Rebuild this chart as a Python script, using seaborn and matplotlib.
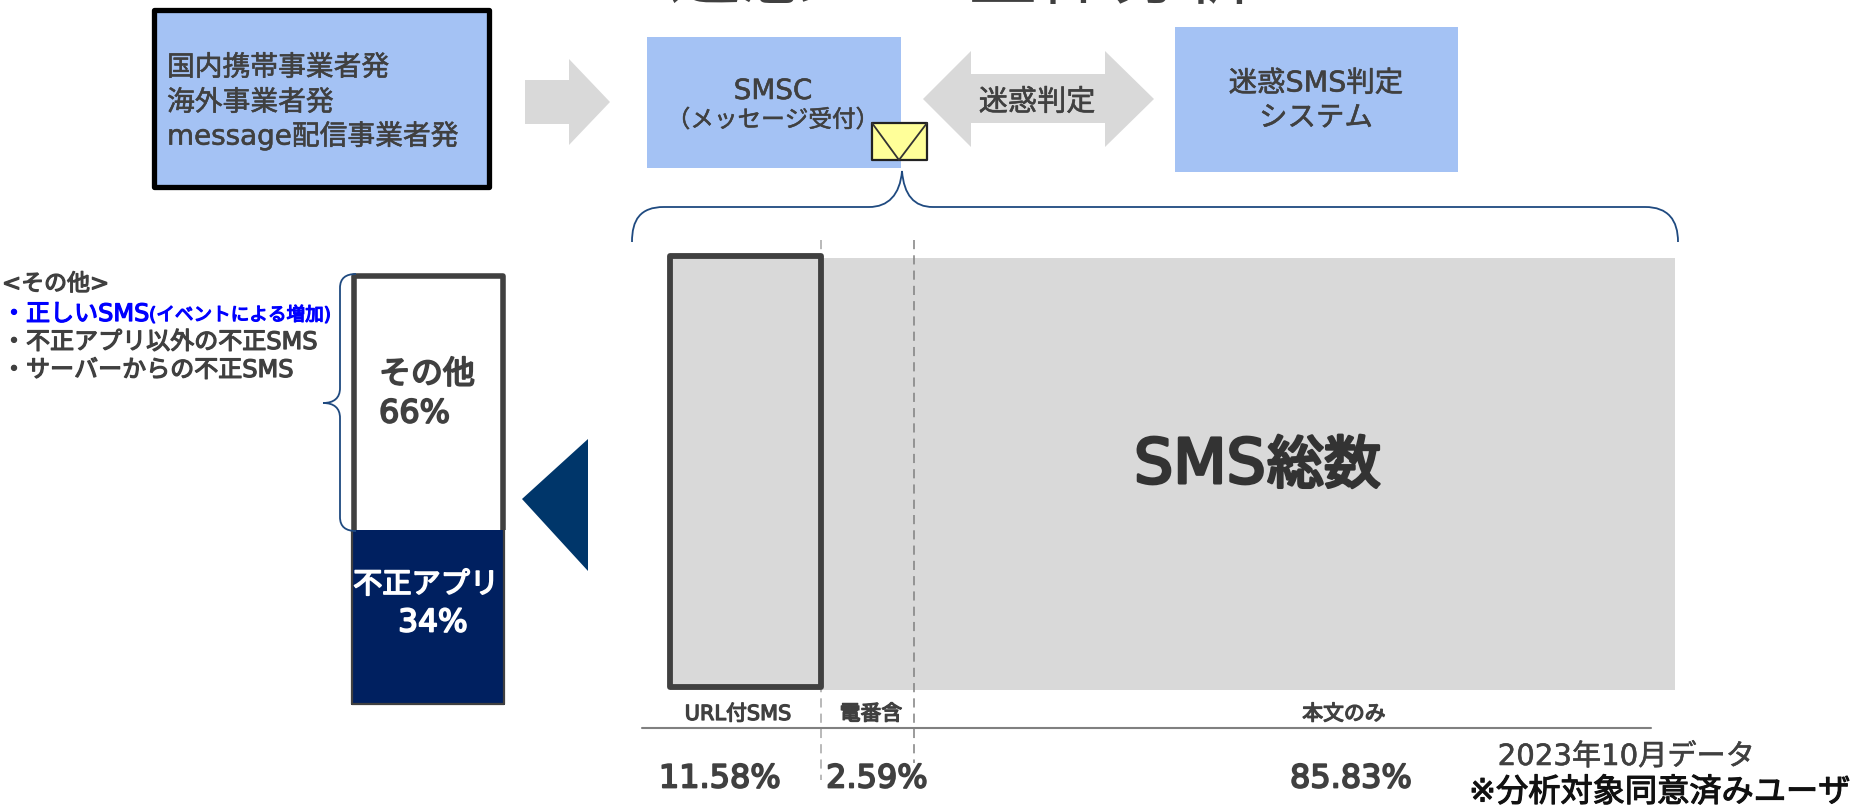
#!/usr/bin/env python3

import matplotlib

matplotlib.use("Agg")
import matplotlib.patheffects as pe
import matplotlib.pyplot as plt
import seaborn as sns
from matplotlib.patches import PathPatch, Polygon, Rectangle
from matplotlib.path import Path

W, H = 1857, 809

# The slide is a sketch: the drawn bands are not to scale with their labels,
# so drawn sizes (share of the band on screen) are kept apart from the labels.
band_names = ["URL付SMS", "電番含", "本文のみ"]
band_labels = ["11.58%", "2.59%", "85.83%"]
band_drawn = [15.0, 9.2, 75.8]

stack_names = ["不正アプリ", "その他"]
stack_labels = ["34%", "66%"]
stack_drawn = [40.5, 59.5]

other_items = ["不正アプリ以外の不正SMS", "サーバーからの不正SMS"]

GREY = "#d9d9d9"
BLUE = "#a4c2f4"
INK = "#404040"
NAVY = "#002060"
BRACE = "#1f4a80"

sns.set_theme(style="white")
plt.rcParams["font.family"] = ["DejaVu Sans", "Noto Sans CJK JP"]


def px_axes(fig, x0, y0, x1, y1):
    """
    Axes placed by pixel rectangle, y measured from the top of the image.
    """
    return fig.add_axes([x0 / W, 1 - y1 / H, (x1 - x0) / W, (y1 - y0) / H])


def heavy(color, width):
    """
    The slide font is a semi bold, DejaVu Bold is too wide and too dark
    """
    return dict(color=color, path_effects=[pe.withStroke(linewidth=width, foreground=color)])


def draw_band(fig):
    ax = px_axes(fig, 670, 258, 1675, 690)
    left = 0
    for name, drawn in zip(band_names, band_drawn):
        sns.barplot(
            x=[drawn],
            y=["SMS"],
            left=left,
            orient="h",
            width=1,
            color=GREY,
            saturation=1,
            linewidth=0,
            ax=ax,
        )
        left += drawn
    ax.set_xlim(0, 100)
    ax.set_ylim(0.5, -0.5)
    ax.axis("off")


def draw_stack(fig):
    ax = px_axes(fig, 351, 273, 505, 705)
    bottom = 0
    for drawn, color in zip(stack_drawn, [NAVY, "white"]):
        sns.barplot(
            x=["share"],
            y=[drawn],
            bottom=bottom,
            width=1,
            color=color,
            saturation=1,
            linewidth=0,
            ax=ax,
        )
        bottom += drawn
    ax.set_xlim(-0.5, 0.5)
    ax.set_ylim(0, 100)
    ax.axis("off")


def box(ax, x0, y0, x1, y1, **kws):
    kws.setdefault("joinstyle", "round")
    ax.add_patch(Rectangle((x0, y0), x1 - x0, y1 - y0, **kws))


def brace(ax, points):
    codes = [Path.MOVETO] + [Path.CURVE4] * 3
    verts = list(points[:4])
    rest = points[4:]
    while rest:
        kind, chunk = rest[0], rest[1]
        rest = rest[2:]
        verts += chunk
        codes += [kind] * len(chunk)
    ax.add_patch(PathPatch(Path(verts, codes), fill=False, edgecolor=BRACE, lw=1.3, zorder=3))


def draw_diagram(ax):
    # Clipped title, only the bottom of the glyphs is left on the slide
    ax.text(668, -2.5, "迷惑SMS全体分析", fontsize=52, color=INK, va="baseline", ha="left", clip_on=False)

    box(ax, 153.5, 10, 488.5, 187, facecolor=BLUE, edgecolor="black", lw=3.8)
    box(ax, 647, 37, 901, 168, facecolor=BLUE, edgecolor="none")
    box(ax, 1175, 27, 1458, 172, facecolor=BLUE, edgecolor="none")

    ax.add_patch(Polygon(
        [(525, 80), (569, 80), (569, 59), (610, 102), (569, 145), (569, 124), (525, 124)],
        facecolor=GREY, edgecolor="none",
    ))
    ax.add_patch(Polygon(
        [(923, 99), (971, 51), (971, 74), (1105, 74), (1105, 51), (1154, 99),
         (1105, 147), (1105, 123), (971, 123), (971, 147)],
        facecolor=GREY, edgecolor="none",
    ))

    # Envelope
    box(ax, 872, 123, 927, 160, facecolor="#ffff99", edgecolor="#222222", lw=1.6, zorder=3)
    ax.plot([872, 899, 927], [123, 160, 123], color="#333333", lw=1.3, zorder=4)

    # Braces
    brace(ax, [(632, 242), (632, 220), (640, 207), (664, 207),
               Path.LINETO, [(869, 207)],
               Path.CURVE4, [(888, 207), (900, 195), (902, 171)],
               Path.CURVE4, [(904, 195), (914, 207), (933, 207)],
               Path.LINETO, [(1645, 207)],
               Path.CURVE4, [(1668, 207), (1678, 220), (1678, 242)]])
    brace(ax, [(356, 274), (346, 274), (340, 278), (340, 288),
               Path.LINETO, [(340, 388)],
               Path.CURVE4, [(340, 398), (334, 403), (323, 403)],
               Path.CURVE4, [(334, 403), (340, 408), (340, 418)],
               Path.LINETO, [(340, 517)],
               Path.CURVE4, [(340, 527), (346, 531), (356, 531)]])

    # Dashed guides run behind the URL outline
    ax.plot([821, 821], [240, 780], color="#a6a6a6", lw=1.1, ls=(0, (6, 4)), zorder=0.5)
    ax.plot([913.5, 913.5], [240, 763], color="#808080", lw=1.1, ls=(0, (6, 4)), zorder=0.5)

    # Highlight outlines, the stack is open at the navy segment
    box(ax, 670, 256, 820.5, 687, facecolor="none", edgecolor=INK, lw=4.2, zorder=2)
    ax.plot([353.5, 353.5, 502.5, 502.5], [530, 276, 276, 530], color=INK, lw=4.0,
            solid_joinstyle="round", solid_capstyle="butt", zorder=2)
    ax.plot([352, 352, 504, 504], [530, 704, 704, 530], color=INK, lw=1.6,
            solid_joinstyle="round", solid_capstyle="butt", zorder=2)

    ax.add_patch(Polygon([(522, 499), (588, 439), (588, 571)], facecolor="#00366a", edgecolor="none"))
    ax.plot([642, 1651], [728, 728], color="#808080", lw=1.5, zorder=1)


def draw_text(ax):
    mid = dict(va="center", ha="center")
    side = dict(va="center", ha="left")
    soft = heavy(INK, 0.4)

    for y, line in zip([67.5, 102.5, 136], ["国内携帯事業者発", "海外事業者発", "message配信事業者発"]):
        ax.text(167, y, line, fontsize=20, **soft, **side)
    ax.text(773, 91, "SMSC", fontsize=20, **soft, **mid)
    ax.text(773, 120, "（メッセージ受付）", fontsize=17, **soft, **mid)
    ax.text(1037, 102.5, "迷惑判定", fontsize=21, **soft, **mid)
    ax.text(1316, 83.5, "迷惑SMS判定", fontsize=20.5, **soft, **mid)
    ax.text(1316, 118, "システム", fontsize=20.5, **soft, **mid)

    # Notes next to the stack
    note = heavy(INK, 0.9)
    blue = heavy("#0000ff", 0.9)
    ax.text(2, 284, "<その他>", fontsize=16.5, **note, **side)
    ax.text(2, 314, "・正しいSMS", fontsize=17.3, **blue, **side)
    ax.text(149, 315, "(イベントによる増加)", fontsize=13.4, **blue, **side)
    for y, item in zip([342, 370], other_items):
        ax.text(2, y, "・" + item, fontsize=17.3, **note, **side)

    # Stack labels, bottom segment first like the data
    ax.text(426, 585, stack_names[0], fontsize=21, **heavy("white", 1.2), **mid)
    ax.text(433, 623, stack_labels[0], fontsize=22.5, **heavy("white", 1.3), **mid)
    ax.text(379, 375, stack_names[1], fontsize=23, **heavy(INK, 1.3), **side)
    ax.text(379, 414, stack_labels[1], fontsize=23, **heavy(INK, 1.3), **side)

    # Latin and kana sizes differ on this label
    big = heavy("#333333", 2.2)
    ax.text(1266, 483, "SMS", fontsize=44.5, va="baseline", ha="right", **big)
    ax.text(1267, 483, "総数", fontsize=41, va="baseline", ha="left", **big)

    for x, name in zip([738, 871, 1344], band_names):
        ax.text(x, 714, name, fontsize=15, **heavy(INK, 0.9), **mid)
    for x, label in zip([720, 877, 1351], band_labels):
        ax.text(x, 779, label, fontsize=23, **heavy(INK, 1.3), **mid)

    ax.text(1626, 757, "2023年10月データ", fontsize=21, **soft, **mid)
    ax.text(1469, 793, "※分析対象同意済みユーザ", fontsize=23.2, **heavy("#111111", 0.8), **side)


def main():
    fig = plt.figure(figsize=(W / 100, H / 100), dpi=100, facecolor="white")
    draw_band(fig)
    draw_stack(fig)

    # Full slide layer in pixel coordinates for the diagram and the labels
    overlay = px_axes(fig, 0, 0, W, H)
    overlay.set_xlim(0, W)
    overlay.set_ylim(H, 0)
    overlay.axis("off")
    draw_diagram(overlay)
    draw_text(overlay)

    fig.savefig("out.png", dpi=100)


if __name__ == "__main__":
    main()
